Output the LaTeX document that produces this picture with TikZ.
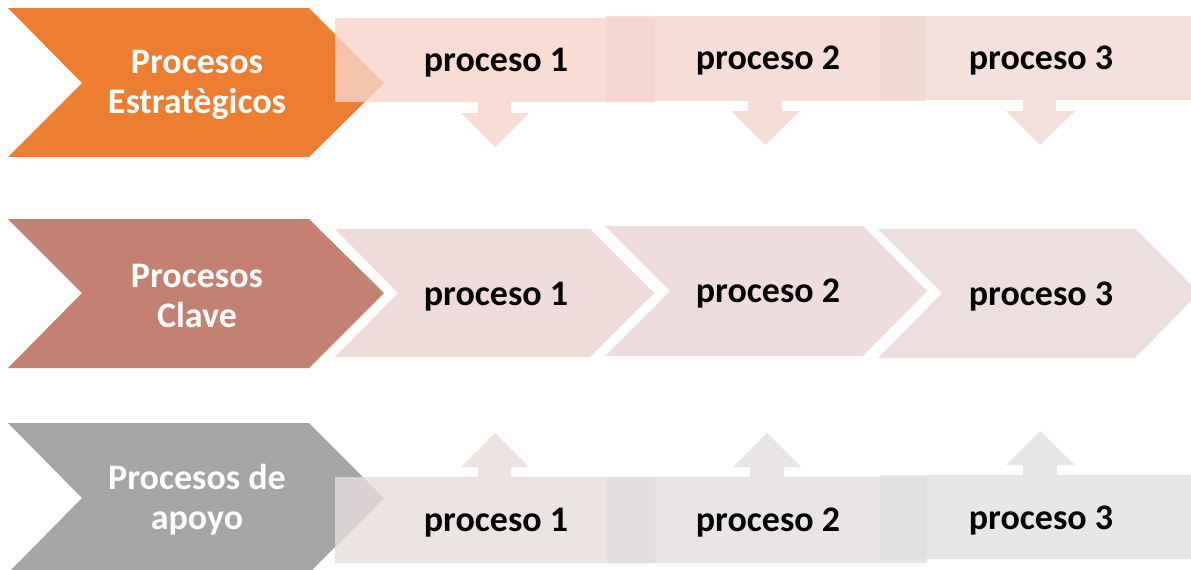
\documentclass[tikz,border=0pt]{standalone}
\usepackage{fontspec}
\setmainfont{Carlito}
\definecolor{leadorange}{RGB}{237,125,49}
\definecolor{leadrose}{RGB}{196,129,113}
\definecolor{leadgray}{RGB}{165,165,165}
\definecolor{topA}{RGB}{248,212,201}
\definecolor{topB}{RGB}{244,213,206}
\definecolor{topC}{RGB}{241,218,212}
\definecolor{midA}{RGB}{239,220,218}
\definecolor{midB}{RGB}{238,221,220}
\definecolor{midC}{RGB}{237,223,222}
\definecolor{lowA}{RGB}{231,220,220}
\definecolor{lowB}{RGB}{227,222,222}
\definecolor{lowC}{RGB}{225,225,225}
\tikzset{
  leadtext/.style={text=white, font=\bfseries\fontsize{27}{30}\selectfont, align=center},
  proctext/.style={text=black, font=\bfseries\fontsize{27}{30}\selectfont},
  veil/.style={fill opacity=0.8},
}
\begin{document}
\begin{tikzpicture}[x=0.75pt,y=-0.75pt]
\useasboundingbox (0,0) rectangle (1191,569);
\clip (0,0) rectangle (1191,569);

% ---------- row 1: strategic processes ----------
\fill[leadorange] (8,8) -- (309,8) -- (384,83) -- (309,157) -- (8,157) -- (82,83) -- cycle;
\fill[topA,veil] (335,18) -- (655,18) -- (655,102) -- (511,102) -- (511,113) -- (529,113)
  -- (495,147) -- (461,113) -- (478,113) -- (478,102) -- (335,102) -- cycle;
\fill[topB,veil] (606,16) -- (925,16) -- (925,101) -- (782,101) -- (782,111) -- (800,111)
  -- (765,145) -- (731,111) -- (748,111) -- (748,101) -- (606,101) -- cycle;
\fill[topC,veil] (880,16) -- (1191,16) -- (1191,100) -- (1056,100) -- (1056,111) -- (1075,111)
  -- (1040,145) -- (1006,111) -- (1023,111) -- (1023,100) -- (880,100) -- cycle;
\node[leadtext] (estr) at (197,85) {Procesos\\Estratègicos};
\node[proctext] (e1) at (496,63) {proceso 1};
\node[proctext] (e2) at (768,61) {proceso 2};
\node[proctext] (e3) at (1041,61) {proceso 3};

% ---------- row 2: key processes ----------
\fill[leadrose] (8,219) -- (309,219) -- (384,293) -- (309,368) -- (8,368) -- (82,293) -- cycle;
\fill[midA] (335,229) -- (590,229) -- (654,293) -- (590,357) -- (335,357) -- (398,293) -- cycle;
\fill[midB] (605,226) -- (863,226) -- (927,291) -- (863,356) -- (605,356) -- (670,291) -- cycle;
\fill[midC] (878,229) -- (1135,229) -- (1199,293) -- (1135,358) -- (878,358) -- (942,293) -- cycle;
\node[leadtext] (clave) at (197,296) {Procesos\\Clave};
\node[proctext] (c1) at (496,297) {proceso 1};
\node[proctext] (c2) at (768,294) {proceso 2};
\node[proctext] (c3) at (1041,297) {proceso 3};

% ---------- row 3: support processes ----------
\fill[leadgray] (8,423) -- (309,423) -- (384,498) -- (309,573) -- (8,573) -- (82,498) -- cycle;
\fill[lowA,veil] (335,477) -- (478,477) -- (478,467) -- (461,467) -- (495,433) -- (529,467)
  -- (511,467) -- (511,477) -- (655,477) -- (655,563) -- (335,563) -- cycle;
\fill[lowB,veil] (607,477) -- (750,477) -- (750,467) -- (733,467) -- (767,433) -- (801,467)
  -- (784,467) -- (784,477) -- (927,477) -- (927,563) -- (607,563) -- cycle;
\fill[lowC,veil] (880,475) -- (1023,475) -- (1023,465) -- (1006,465) -- (1040,431) -- (1075,465)
  -- (1057,465) -- (1057,475) -- (1191,475) -- (1191,559) -- (880,559) -- cycle;
\node[leadtext] (apoyo) at (197,500) {Procesos de\\apoyo};
\node[proctext] (a1) at (496,523) {proceso 1};
\node[proctext] (a2) at (768,523) {proceso 2};
\node[proctext] (a3) at (1041,521) {proceso 3};
\end{tikzpicture}
\end{document}
